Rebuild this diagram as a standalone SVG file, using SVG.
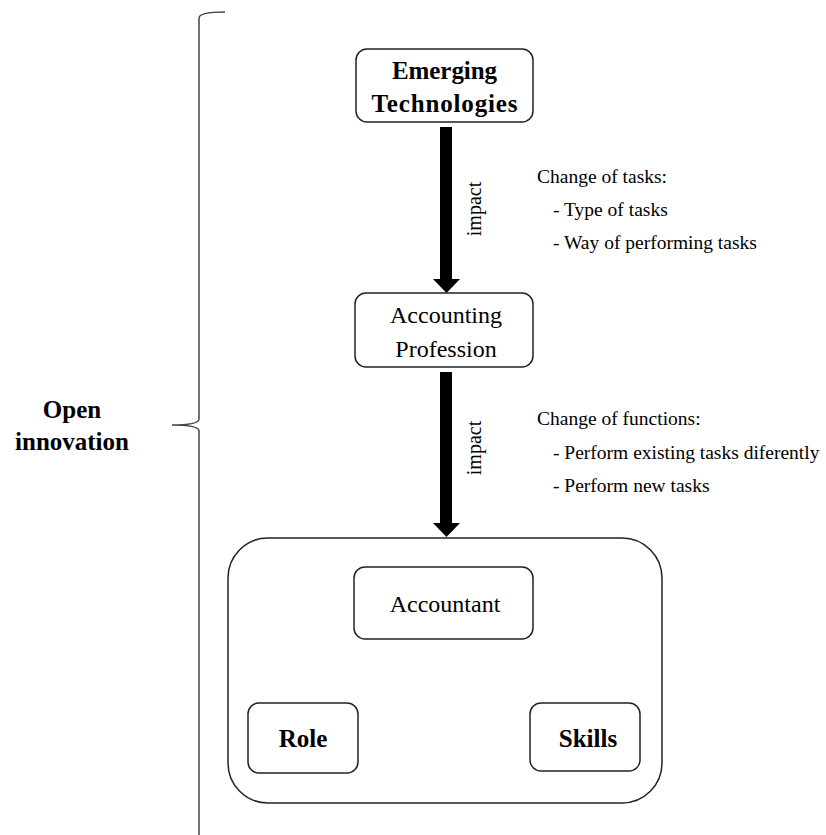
<svg xmlns="http://www.w3.org/2000/svg" width="826" height="835" viewBox="0 0 826 835">
<style>
.box{fill:#fff;stroke:#222;stroke-width:1.5}
.big{font-family:"Liberation Serif","Times New Roman",serif;font-size:24px;fill:#000;text-anchor:middle}
.bold{font-family:"Liberation Serif","Times New Roman",serif;font-size:25px;font-weight:bold;fill:#000;text-anchor:middle}
.small{font-family:"Liberation Serif","Times New Roman",serif;font-size:19.5px;fill:#000}
.lbl{font-family:"Liberation Serif","Times New Roman",serif;font-size:20px;fill:#000;text-anchor:middle}
.line{stroke:#222;stroke-width:1.3;fill:none}
</style>
<rect width="826" height="835" fill="#fff"/>
<g id="brace">
<path d="M225,12 Q199,12 199,18 L199,419 Q199,425 172,425 Q199,425 199,431 L199,835" fill="none" stroke="#444" stroke-width="1.5"/>
<text class="bold" x="72" y="418">Open</text>
<text class="bold" x="72" y="450">innovation</text>
</g>
<g id="connectors">
<rect x="440" y="127" width="12" height="153" fill="#000"/>
<polygon points="433,279 460,279 446.5,293" fill="#000"/>
<rect x="440" y="372" width="12" height="152" fill="#000"/>
<polygon points="433,523 460,523 446.5,537" fill="#000"/>
<text class="lbl" transform="translate(481,209) rotate(-90)">impact</text>
<text class="lbl" transform="translate(481,448) rotate(-90)">impact</text>
<line class="line" x1="447" y1="639" x2="305" y2="703"/>
<line class="line" x1="447" y1="639" x2="588" y2="703"/>
</g>
<g id="emerging">
<rect class="box" x="356" y="49" width="177" height="73" rx="11"/>
<text class="bold" x="444.5" y="79" textLength="105" lengthAdjust="spacing">Emerging</text>
<text class="bold" x="444.5" y="112" textLength="146" lengthAdjust="spacing">Technologies</text>
</g>
<g id="tasks-note">
<text class="small" x="537" y="183">Change of tasks:</text>
<text class="small" x="553" y="216">- Type of tasks</text>
<text class="small" x="553" y="249">- Way of performing tasks</text>
</g>
<g id="profession">
<rect class="box" x="355" y="293" width="178" height="74" rx="11"/>
<text class="big" x="446" y="323">Accounting</text>
<text class="big" x="446" y="357">Profession</text>
</g>
<g id="functions-note">
<text class="small" x="537" y="425">Change of functions:</text>
<text class="small" x="553" y="459">- Perform existing tasks diferently</text>
<text class="small" x="553" y="492">- Perform new tasks</text>
</g>
<g id="container">
<rect class="box" x="228" y="538" width="434" height="265" rx="40"/>
</g>
<g id="accountant">
<rect class="box" x="354" y="567" width="179" height="72" rx="11"/>
<text class="big" x="445" y="612">Accountant</text>
</g>
<g id="role">
<rect class="box" x="248" y="703" width="110" height="70" rx="11"/>
<text class="bold" x="303" y="747">Role</text>
</g>
<g id="skills">
<rect class="box" x="530" y="703" width="110" height="68" rx="11"/>
<text class="bold" x="588" y="747">Skills</text>
</g>
</svg>
